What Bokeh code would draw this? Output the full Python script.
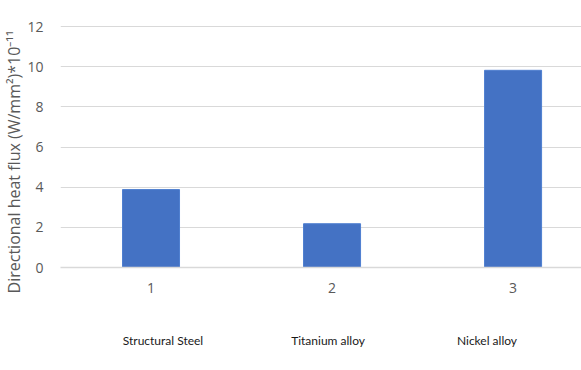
from bokeh.plotting import figure
from bokeh.models import Range1d, FixedTicker, LinearAxis, Title
from bokeh.embed import file_html
from bokeh.resources import INLINE

categories = [1, 2, 3]
materials = ["Structural Steel", "Titanium alloy", "Nickel alloy"]
heat_flux = [3.88, 2.18, 9.82]
y_ticks = [0, 2, 4, 6, 8, 10, 12]
y_title = "Directional heat flux (W/mm\u00b2)*10\u207b\u00b9\u00b9"

# horizontal shift (px) of the material names relative to their bars
name_shift_px = [12, -4, -26]

x_lo, x_hi = 0.5, 3.378
frame_w = 521
px_per_unit = frame_w / (x_hi - x_lo)

p = figure(width=581, height=370, output_backend="svg", toolbar_location=None,
           x_range=Range1d(x_lo, x_hi), y_range=Range1d(0, 12.3),
           min_border_left=60, min_border_right=0, min_border_top=20, min_border_bottom=103)
p.outline_line_color = None

p.vbar(x=categories, top=heat_flux, width=0.315, bottom=0,
       fill_color="#4472C4", line_color="#4f7fd0", line_width=1)

# y axis
p.yaxis.ticker = FixedTicker(ticks=y_ticks)
p.yaxis.axis_line_color = None
p.yaxis.major_tick_line_color = None
p.yaxis.minor_tick_line_color = None
p.yaxis.major_label_text_font = "Open Sans"
p.yaxis.major_label_text_font_size = "14px"
p.yaxis.major_label_text_color = "#595959"
p.yaxis.major_label_standoff = 11

# x axis (category numbers)
p.xaxis.ticker = FixedTicker(ticks=categories)
p.xaxis.axis_line_color = "#d9d9d9"
p.xaxis.axis_line_width = 1.5
p.xaxis.major_tick_line_color = None
p.xaxis.minor_tick_line_color = None
p.xaxis.major_label_text_font = "Open Sans"
p.xaxis.major_label_text_font_size = "14px"
p.xaxis.major_label_text_color = "#595959"
p.xaxis.major_label_standoff = 9

# second axis with material names
name_pos = [round(c + d / px_per_unit, 3) for c, d in zip(categories, name_shift_px)]
ax2 = LinearAxis(ticker=FixedTicker(ticks=name_pos),
                 major_label_overrides={v: m for v, m in zip(name_pos, materials)})
ax2.axis_line_color = None
ax2.major_tick_line_color = None
ax2.minor_tick_line_color = None
ax2.major_label_text_font = "Lato"
ax2.major_label_text_font_size = "12px"
ax2.major_label_text_color = "#1a1a1a"
ax2.major_label_standoff = 31
p.add_layout(ax2, "below")

p.xgrid.grid_line_color = None
p.ygrid.ticker = FixedTicker(ticks=y_ticks)
p.ygrid.grid_line_color = "#d9d9d9"
p.ygrid.grid_line_width = 1

t = Title(text=y_title, align="right", offset=10, standoff=0,
          text_font="Open Sans", text_font_size="16px", text_color="#595959",
          text_font_style="normal")
p.add_layout(t, "left")

open("out.html", "w").write(file_html(p, INLINE))
